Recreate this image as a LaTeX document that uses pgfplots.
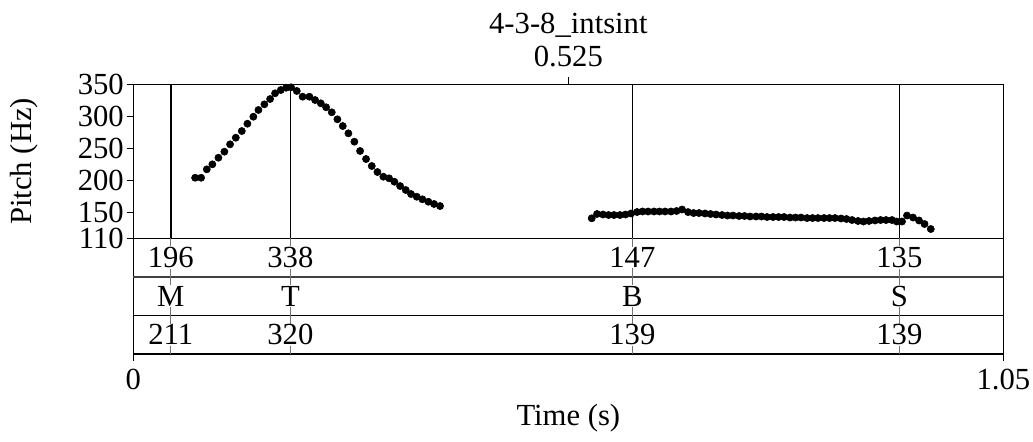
\documentclass[border=0pt]{standalone}
\usepackage{fontspec}
\setmainfont{Liberation Serif}
\usepackage{pgfplots}
\pgfplotsset{compat=1.18}

% pitch track, two voiced stretches (time s, F0 Hz)
\pgfplotstableread{
t f
0.0745 204.4
0.0817 204.4
0.0886 217.5
0.0953 225.3
0.1026 235.6
0.1098 245.0
0.1167 256.5
0.1236 266.8
0.1308 277.2
0.1376 288.6
0.1448 299.5
0.1509 310.0
0.1581 318.8
0.1650 327.1
0.1710 336.0
0.1779 341.1
0.1843 344.7
0.1903 345.3
0.1972 339.6
0.2042 330.7
0.2124 330.7
0.2193 325.5
0.2262 320.4
0.2326 314.2
0.2394 306.4
0.2462 295.5
0.2527 285.0
0.2595 273.6
0.2667 260.6
0.2736 246.1
0.2808 233.6
0.2877 222.7
0.2945 213.3
0.3017 206.0
0.3086 203.5
0.3150 198.2
0.3219 191.5
0.3287 185.3
0.3351 179.0
0.3420 174.8
0.3488 170.8
0.3560 167.0
0.3629 163.5
0.3701 160.3
}\voicedA

\pgfplotstableread{
t f
0.5532 141.2
0.5596 147.9
0.5668 147.1
0.5735 146.3
0.5801 146.3
0.5873 146.3
0.5940 147.1
0.6007 148.7
0.6079 151.0
0.6145 151.8
0.6212 151.8
0.6284 151.8
0.6350 151.8
0.6417 151.8
0.6489 151.8
0.6556 152.6
0.6622 154.9
0.6694 150.9
0.6761 149.4
0.6827 149.4
0.6899 148.7
0.6966 147.9
0.7032 147.1
0.7105 146.3
0.7171 145.5
0.7237 145.5
0.7310 144.8
0.7376 144.8
0.7443 144.0
0.7515 144.0
0.7581 144.0
0.7648 143.2
0.7720 143.2
0.7787 143.2
0.7853 143.2
0.7925 142.4
0.7992 142.4
0.8058 142.4
0.8131 141.6
0.8197 141.6
0.8263 141.6
0.8336 141.6
0.8402 141.6
0.8468 141.6
0.8541 140.9
0.8607 140.1
0.8674 138.5
0.8746 137.0
0.8812 136.2
0.8879 137.0
0.8951 137.8
0.9018 138.5
0.9084 138.5
0.9156 138.5
0.9213 136.2
0.9277 136.2
0.9337 145.5
0.9410 142.4
0.9482 137.8
0.9549 132.3
0.9624 124.5
}\voicedB

\begin{document}
\fontsize{23}{28}\selectfont
\begin{tikzpicture}
\begin{axis}[
    scale only axis, width=652.5pt, height=202.3pt,
    xmin=0, xmax=1.05, ymin=-70.3, ymax=350,
    clip=false,
    axis line style={line width=1pt},
    xtick={0,1.05}, xticklabels={0,1.05},
    ytick={110,150,200,250,300,350},
    yticklabels={110,150,200,250,300,350},
    xtick pos=bottom, ytick pos=left, tick align=outside,
    major tick length=5pt,
    tick style={black, line width=1pt},
    /pgf/number format/assume math mode=true,
    yticklabel style={inner xsep=2pt, inner ysep=0pt},
    xticklabel style={inner sep=2pt, yshift=-4pt},
]
% tier boundaries
\draw[line width=1pt] (axis cs:0,110) -- (axis cs:1.05,110);
\draw[line width=1.4pt, black!75] (axis cs:0,50.2) -- (axis cs:1.05,50.2);
\draw[line width=0.8pt] (axis cs:0,-10) -- (axis cs:1.05,-10);
\draw[line width=1.7pt] (axis cs:0,-70.3) -- (axis cs:1.05,-70.3);

% point-tier marks
\pgfplotsinvokeforeach{0.0451,0.1895,0.6022,0.9245}{
  \draw[line width=1.2pt] (axis cs:#1,110) -- (axis cs:#1,350);
  \draw[line width=0.6pt, black!55] (axis cs:#1,-70.3) -- (axis cs:#1,110);
}
\node[fill=white, inner sep=0.6pt] at (axis cs:0.0451,80.1) {196};
\node[fill=white, inner sep=0.6pt] at (axis cs:0.1895,80.1) {338};
\node[fill=white, inner sep=0.6pt] at (axis cs:0.6022,80.1) {147};
\node[fill=white, inner sep=0.6pt] at (axis cs:0.9245,80.1) {135};
\node[fill=white, inner sep=0.6pt] at (axis cs:0.0451,20.1) {M};
\node[fill=white, inner sep=0.6pt] at (axis cs:0.1895,20.1) {T};
\node[fill=white, inner sep=0.6pt] at (axis cs:0.6022,20.1) {B};
\node[fill=white, inner sep=0.6pt] at (axis cs:0.9245,20.1) {S};
\node[fill=white, inner sep=0.6pt] at (axis cs:0.0451,-40.2) {211};
\node[fill=white, inner sep=0.6pt] at (axis cs:0.1895,-40.2) {320};
\node[fill=white, inner sep=0.6pt] at (axis cs:0.6022,-40.2) {139};
\node[fill=white, inner sep=0.6pt] at (axis cs:0.9245,-40.2) {139};

\addplot[only marks, mark=*, mark size=2.7pt, black] table[x=t, y=f] {\voicedA};
\addplot[only marks, mark=*, mark size=2.7pt, black] table[x=t, y=f] {\voicedB};

% titles and labels
\node[anchor=base] at (axis cs:0.525,429.5) {4-3-8\_intsint};
\node[anchor=base] at (axis cs:0.525,377.4) {0.525};
\draw[line width=1pt] (axis cs:0.525,350) -- (axis cs:0.525,361.4);
\node[anchor=base] at (axis cs:0.525,-180.9) {Time (s)};
\node[rotate=90] at (axis cs:-0.1319,230) {Pitch (Hz)};
\path (axis cs:-0.1609,-188.7) rectangle (axis cs:1.0858,481.4);
\end{axis}
\end{tikzpicture}
\end{document}
